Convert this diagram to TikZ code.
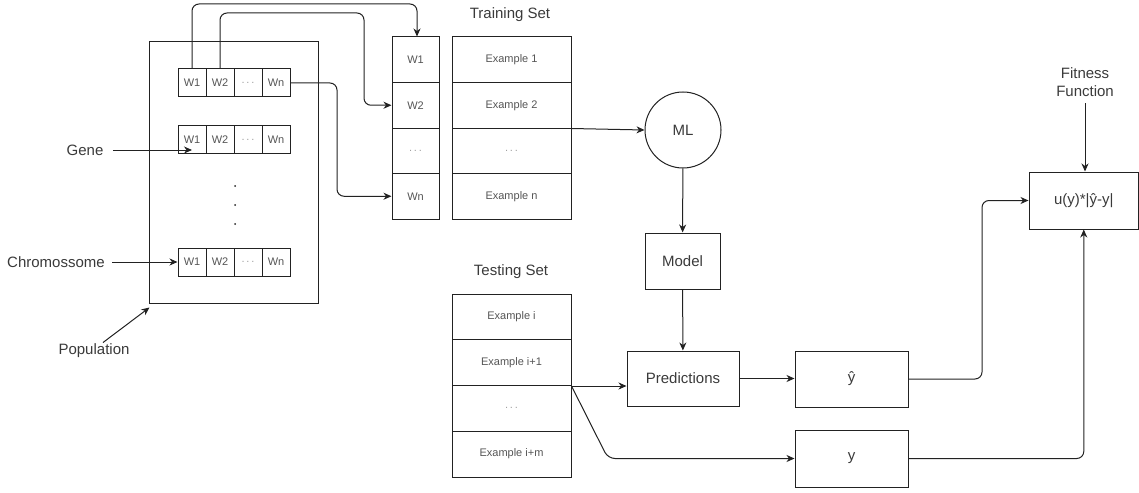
\documentclass[tikz,border=0pt]{standalone}
\usepackage{fontspec}
\setmainfont{Liberation Sans}
\usetikzlibrary{arrows.meta,calc}
\definecolor{ink}{HTML}{222222}
\definecolor{txt}{HTML}{3A3A3A}
\definecolor{celltxt}{HTML}{555555}
\definecolor{faint}{HTML}{A0A0A0}
\newcommand{\ellip}{\textcolor{faint}{.\,.\,.}}
\begin{document}
\begin{tikzpicture}[x=1pt,y=-1pt,line width=1pt,
  box/.style={draw=ink,rectangle,inner sep=0pt,text=txt,font=\fontsize{15}{18}\selectfont},
  genecell/.style={box,minimum width=28pt,minimum height=28pt,text=celltxt,font=\fontsize{11}{13}\selectfont},
  rowcell/.style={box,text=celltxt,font=\fontsize{11}{13}\selectfont},
  lbl/.style={text=txt,font=\fontsize{15}{18}\selectfont,inner sep=0pt,align=center},
  arr/.style={draw=ink,-{Stealth[length=8pt,width=7pt,inset=2.5pt]}},
  link/.style={arr,rounded corners=7pt},
]
\useasboundingbox (0,0) rectangle (1139,492);

% population with its chromosomes
\node[box,minimum width=169pt,minimum height=261pt] (pop) at (233.5,172.5) {};
\foreach \r/\y in {1/83,2/139.5,3/262}{
  \foreach \c/\x/\t in {1/192/W1,2/220/W2,3/248/{\ellip},4/276/Wn}
    \node[genecell] (c\r\c) at (\x,\y) {\t};
}
\foreach \y in {186,205,224} \fill[ink] (235,\y) circle (1pt);

% training set
\node[lbl] (trainlbl) at (510,15) {Training Set};
\foreach \i/\y/\t in {1/59.75/W1,2/105.25/W2,3/150.75/{\ellip},4/196.25/Wn}
  \node[rowcell,minimum width=47pt,minimum height=45.5pt] (w\i) at (415.5,\y) {\t};
\foreach \i/\y/\t in {1/59.75/Example 1,2/105.25/Example 2,3/150.75/{\ellip},4/196.25/Example n}
  \node[rowcell,minimum width=119pt,minimum height=45.5pt] (ex\i) at (511.5,\y) {\t};

% testing set
\node[lbl] (testlbl) at (511,272) {Testing Set};
\foreach \i/\y/\t in {1/316.875/Example i,2/362.625/Example i+1,3/408.375/{\ellip},4/454.125/Example i+m}
  \node[rowcell,minimum width=119pt,minimum height=45.75pt] (ts\i) at (511.5,\y) {\t};

% learning pipeline
\node[box,circle,minimum size=76pt] (ml) at (683,130) {ML};
\node[box,minimum width=75pt,minimum height=56pt] (model) at (682.5,261) {Model};
\node[box,minimum width=112pt,minimum height=55pt] (pred) at (683,378.5) {Predictions};
\node[box,minimum width=113pt,minimum height=56pt] (yhat) at (851.5,379) {ŷ};
\node[box,minimum width=113pt,minimum height=57pt] (yb) at (851.5,458.5) {y};
\node[box,minimum width=109.5pt,minimum height=57pt] (fit) at (1083.75,200.5) {u(y)*|ŷ-y|};
\node[lbl] (fitlbl) at (1085,82) {Fitness\\Function};

% side labels
\node[lbl] (genelbl) at (85,150) {Gene};
\node[lbl] (chromlbl) at (56,262) {Chromossome};
\node[lbl] (poplbl) at (94,351) {Population};

% connectors
\draw[arr] ([xshift=9pt]genelbl.east) -- (genelbl.east -| c21.center);
\draw[arr] ([xshift=7pt]chromlbl.east) -- (c31.west);
\draw[arr] ([xshift=9pt,yshift=1pt]poplbl.north) -- ([xshift=1pt,yshift=-4pt]pop.south west);

\coordinate (hop1) at (417,4);
\coordinate (hop2) at (364,13);
\coordinate (hop3) at (337,140);
\draw[link] (c11.north) |- (hop1) -- (hop1 |- w1.north);
\draw[link] (c12.north) |- (hop2) |- (w2.west);
\draw[link] (c14.east) -| (hop3) |- (w4.west);

\draw[arr] (ex2.south east) -- (ml.west);
\draw[arr] (ml) -- (model);
\draw[arr] (model) -- (pred);

\coordinate (bend) at (608,458.5);
\draw[arr] (ts2.south east) -- (ts2.south east -| pred.west);
\draw[link] (ts2.south east) -- (bend) -- (yb.west);

\draw[arr] (pred.east) -- (pred.east -| yhat.west);
\coordinate (hop4) at (982,290);
\draw[link] (yhat.east) -| (hop4) |- (fit.west);
\draw[link] (yb.east) -| (fit.south);
\draw[arr] ([yshift=-6pt]fitlbl.south) -- (fitlbl.south |- fit.north);
\end{tikzpicture}
\end{document}
